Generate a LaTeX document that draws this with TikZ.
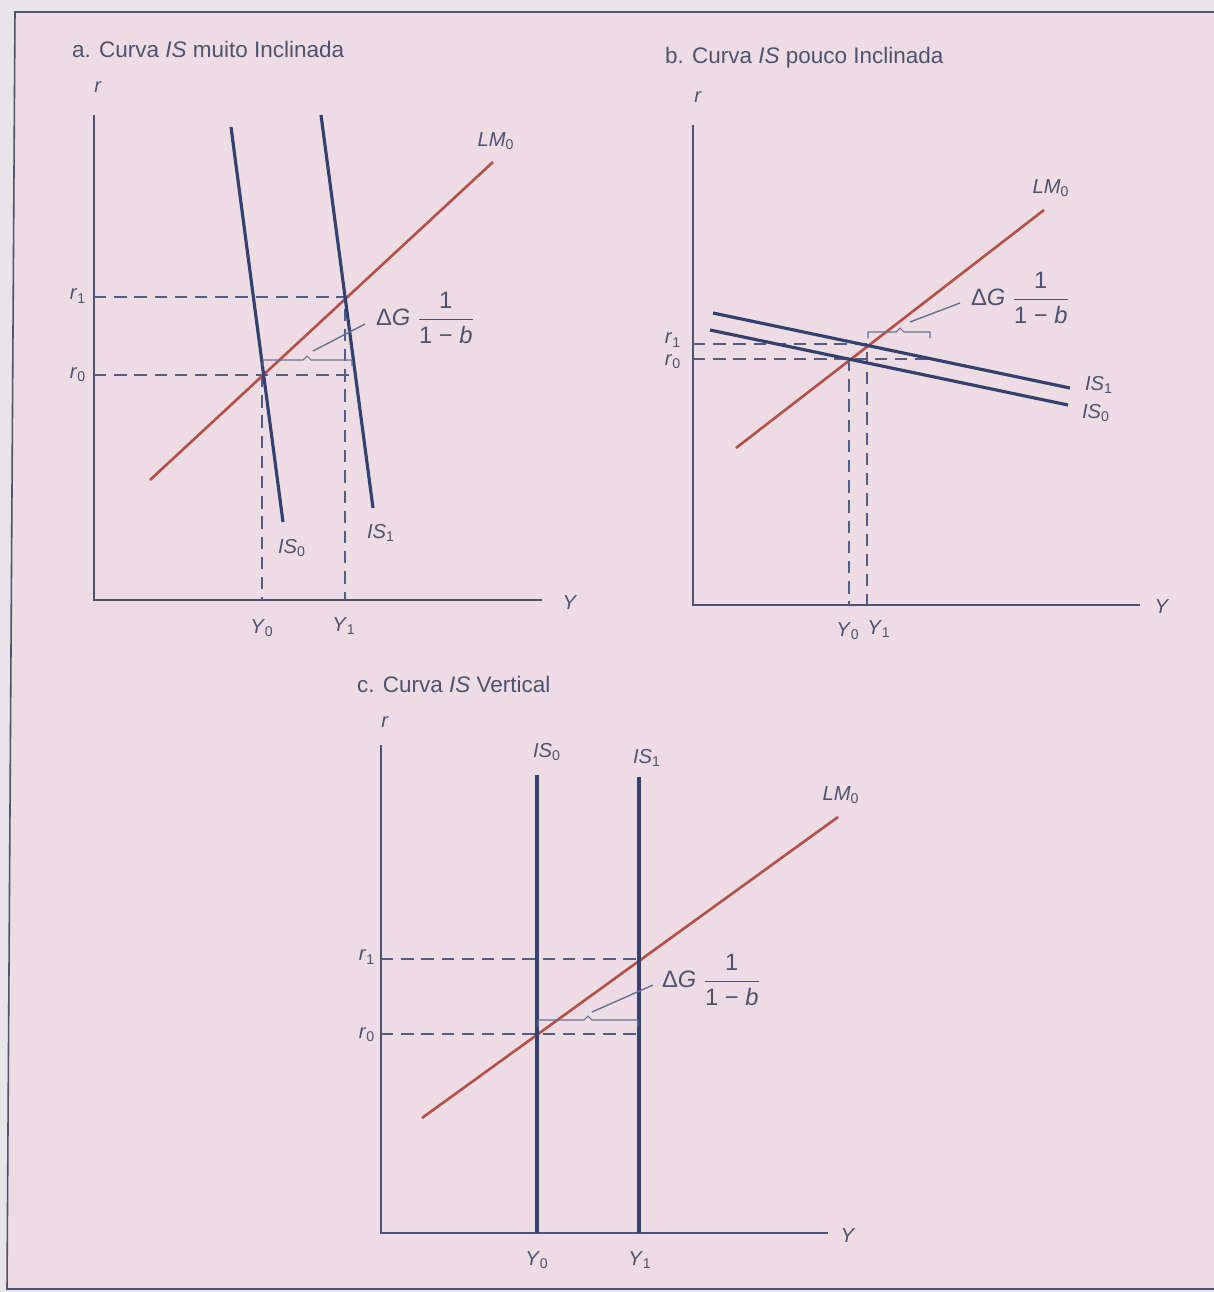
\documentclass[tikz,border=0pt]{standalone}
\usepackage{fontspec}
\usepackage{amsmath}
\setmainfont{Liberation Sans}
\usetikzlibrary{positioning}

\definecolor{paper}{HTML}{EDDCE3}
\definecolor{margin}{HTML}{E7E5E8}
\definecolor{navy}{HTML}{34406E}
\definecolor{brick}{HTML}{B3524B}
\definecolor{axisgray}{HTML}{4E536F}

\tikzset{
  axis/.style={axisgray, line width=1.2pt},
  isline/.style={navy, line width=1.8pt},
  lmline/.style={brick, line width=1.5pt},
  guide/.style={navy!85, line width=0.9pt, dash pattern=on 7pt off 4.5pt},
  brc/.style={navy!75, line width=0.6pt},
  lbl/.style={text=axisgray, font=\fontsize{11.5}{13}\selectfont, inner sep=1pt},
  ttl/.style={lbl, anchor=base west, font=\fontsize{12.8}{15}\selectfont},
  dglbl/.style={lbl, anchor=west, font=\fontsize{13.5}{16}\selectfont},
}

\begin{document}
\begin{tikzpicture}[x=0.02cm, y=-0.02cm]
\useasboundingbox (0,0) rectangle (1214,1292);
\fill[margin] (0,0) rectangle (1214,1292);
\fill[paper] (15,12) -- (1230,12) -- (1230,1289) -- (7,1289) -- cycle;
\draw[axisgray, line width=0.9pt] (1230,12) -- (15,12) -- (7,1289) -- (1230,1289);

% a. steep IS
\node[ttl] (atitle) at (70,57) {a. Curva \textit{IS} muito Inclinada};
\coordinate (atop) at (94,115);
\coordinate (aO) at (94,600);
\coordinate (aend) at (542,600);
\draw[axis] (atop) -- (aO) -- (aend);
\node[lbl] (ar) at (98,87) {\textit{r}};
\node[lbl] (aY) at (570,603) {\textit{Y}};
\coordinate (aE0) at (262,375);
\coordinate (aE1) at (345,297);
\draw[guide] (94,297) -- (aE1) -- (345,600);
\draw[guide] (94,375) -- (355,375);
\draw[guide] (aE0) -- (262,600);
\draw[lmline] (150,480) -- (493,162);
\draw[isline] (231,127) -- (283,522);
\draw[isline] (321,115) -- (373,508);
\node[lbl] (ar1) at (78,296) {\textit{r}\textsubscript{1}};
\node[lbl] (ar0) at (78,375) {\textit{r}\textsubscript{0}};
\node[lbl] (aY0) at (262,628) {\textit{Y}\textsubscript{0}};
\node[lbl] (aY1) at (344,626) {\textit{Y}\textsubscript{1}};
\node[lbl] (aIS0) at (292,548) {\textit{IS}\textsubscript{0}};
\node[lbl] (aIS1) at (381,533) {\textit{IS}\textsubscript{1}};
\node[lbl] (aLM0) at (496,141) {\textit{LM}\textsubscript{0}};
\draw[brc] (263,366) -- (263,360) -- (303,360) -- (307,356) -- (311,360) -- (352,360) -- (352,366);
\coordinate (abr) at (313,351);
\node[dglbl] (adg) at (374,318) {Δ\textit{G} $\dfrac{\text{1}}{\text{1 − \textit{b}}}$};
\draw[brc, line width=0.8pt] (abr) -- (365,324);

% b. flat IS
\node[ttl] (btitle) at (663,63) {b. Curva \textit{IS} pouco Inclinada};
\coordinate (btop) at (693,125);
\coordinate (bO) at (693,605);
\coordinate (bend) at (1140,605);
\draw[axis] (btop) -- (bO) -- (bend);
\node[lbl] (br) at (698,97) {\textit{r}};
\node[lbl] (bY) at (1162,607) {\textit{Y}};
\coordinate (bE0) at (849,359);
\coordinate (bE1) at (867,344);
\draw[guide] (693,344) -- (bE1) -- (867,605);
\draw[guide] (693,359) -- (932,359);
\draw[guide] (bE0) -- (849,605);
\draw[lmline] (736,448) -- (1044,210);
\draw[isline] (713,313) -- (1070,388);
\draw[isline] (710,330) -- (1068,405);
\node[lbl] (br1) at (673,340) {\textit{r}\textsubscript{1}};
\node[lbl] (br0) at (673,362) {\textit{r}\textsubscript{0}};
\node[lbl] (bY0) at (848,631) {\textit{Y}\textsubscript{0}};
\node[lbl] (bY1) at (879,629) {\textit{Y}\textsubscript{1}};
\node[lbl] (bIS1) at (1099,385) {\textit{IS}\textsubscript{1}};
\node[lbl] (bIS0) at (1096,413) {\textit{IS}\textsubscript{0}};
\node[lbl] (bLM0) at (1051,188) {\textit{LM}\textsubscript{0}};
\draw[brc] (868,338) -- (868,332) -- (896,332) -- (900,328) -- (904,332) -- (930,332) -- (930,338);
\coordinate (bbr) at (910,322);
\node[dglbl] (bdg) at (969,298) {Δ\textit{G} $\dfrac{\text{1}}{\text{1 − \textit{b}}}$};
\draw[brc, line width=0.8pt] (bbr) -- (960,303);

% c. vertical IS
\node[ttl] (ctitle) at (355,692) {c. Curva \textit{IS} Vertical};
\coordinate (ctop) at (381,745);
\coordinate (cO) at (381,1233);
\coordinate (cend) at (828,1233);
\draw[axis] (ctop) -- (cO) -- (cend);
\node[lbl] (cr) at (385,722) {\textit{r}};
\node[lbl] (cY) at (848,1236) {\textit{Y}};
\coordinate (cE0) at (537,1034);
\coordinate (cE1) at (639,959);
\draw[guide] (381,959) -- (cE1);
\draw[guide] (381,1034) -- (639,1034);
\draw[lmline] (422,1118) -- (838,817);
\draw[isline] (537,775) -- (537,1233);
\draw[isline] (639,777) -- (639,1233);
\node[lbl] (cr1) at (367,957) {\textit{r}\textsubscript{1}};
\node[lbl] (cr0) at (367,1035) {\textit{r}\textsubscript{0}};
\node[lbl] (cY0) at (537,1260) {\textit{Y}\textsubscript{0}};
\node[lbl] (cY1) at (640,1260) {\textit{Y}\textsubscript{1}};
\node[lbl] (cIS0) at (547,752) {\textit{IS}\textsubscript{0}};
\node[lbl] (cIS1) at (647,758) {\textit{IS}\textsubscript{1}};
\node[lbl] (cLM0) at (841,795) {\textit{LM}\textsubscript{0}};
\draw[brc] (538,1027) -- (538,1020) -- (584,1020) -- (588,1016) -- (592,1020) -- (638,1020) -- (638,1027);
\coordinate (cbr) at (592,1012);
\node[dglbl] (cdg) at (660,980) {Δ\textit{G} $\dfrac{\text{1}}{\text{1 − \textit{b}}}$};
\draw[brc, line width=0.8pt] (cbr) -- (653,985);
\end{tikzpicture}
\end{document}
